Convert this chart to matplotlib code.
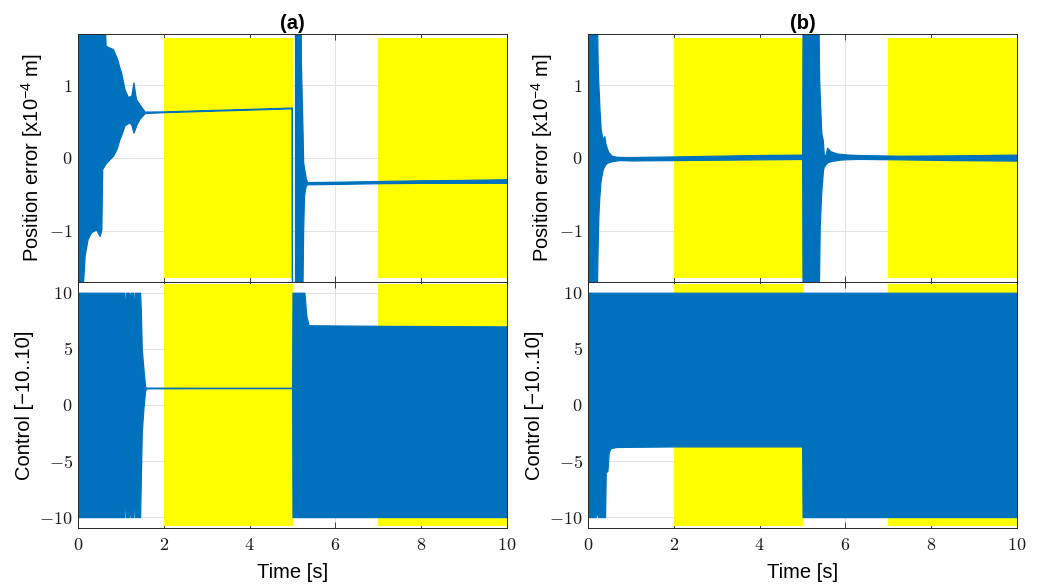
import numpy as np
import matplotlib.pyplot as plt
from matplotlib.ticker import FuncFormatter

plt.rcParams['font.family'] = 'Liberation Sans'
plt.rcParams['mathtext.fontset'] = 'cm'
plt.rcParams['mathtext.rm'] = 'Liberation Sans'
plt.rcParams['mathtext.it'] = 'Liberation Sans:italic'
plt.rcParams['mathtext.bf'] = 'Liberation Sans:bold'

BLUE = '#0072BD'
YELLOW = '#FFFF00'
DARK = '#262626'

# time intervals highlighted in yellow
shaded = [(2, 5), (7, 10)]

# (a) position error envelope [x1e-4 m]
t_pos_a = [0, 0.04, 0.12, 0.16, 0.23, 0.31, 0.43, 0.51, 0.55, 0.57, 0.62, 0.65, 0.70, 0.82,
           0.90, 0.94, 0.97, 1.01, 1.09, 1.17, 1.21, 1.25, 1.30, 1.35, 1.36, 1.44, 1.56,
           2.0, 3.0, 4.0, 4.99, 5.0, 5.03, 5.07, 5.2, 5.207, 5.238, 5.246, 5.26, 5.28,
           5.30, 5.32, 5.34, 5.36, 6.0, 7.0, 8.0, 9.0, 10.0]
hi_pos_a = [2, 2, 2, 2, 2, 2, 2, 2, 2, 2, 2, 1.54, 1.52, 1.49,
            1.38, 1.31, 1.24, 1.17, 0.94, 0.83, 0.84, 0.85, 1.03, 0.83, 0.80, 0.73, 0.63,
            0.632, 0.65, 0.667, 0.685, 0.685, np.nan, 2.5, 2.5, 1.31, 0.53, 0.35, -0.07, -0.15,
            -0.21, -0.28, -0.32, -0.34, -0.335, -0.325, -0.315, -0.31, -0.30]
lo_pos_a = [-2, -2, -1.75, -1.35, -1.12, -1.03, -0.99, -1.08, -0.99, -0.16, -0.11, -0.08, -0.05, 0.02,
            0.11, 0.18, 0.25, 0.30, 0.44, 0.47, 0.48, 0.45, 0.34, 0.42, 0.44, 0.53, 0.61,
            0.622, 0.64, 0.657, 0.675, -2.5, np.nan, -2.5, -2.5, -2.5, -2.5, -1.68, -0.99, -0.53,
            -0.45, -0.39, -0.375, -0.37, -0.365, -0.355, -0.35, -0.35, -0.35]

# (a) control envelope
t_ctrl_a = [0, 1.07, 1.09, 1.11, 1.18, 1.20, 1.22, 1.28, 1.30, 1.32, 1.37, 1.385, 1.40, 1.443,
            1.459, 1.482, 1.521, 1.56, 1.60, 3.0, 4.99, 5.0, 5.277, 5.323, 5.378, 7.0, 10.0]
hi_ctrl_a = [10, 10, 8.0, 10, 10, 9.4, 10, 10, 8.1, 10, 10, 9.2, 10, 10,
             8.5, 5.0, 3.2, 1.6, 1.54, 1.53, 1.53, 10, 10, 7.9, 7.1, 7.05, 7.0]
lo_ctrl_a = [-10, -10, -7.2, -10, -10, -9.0, -10, -10, -7.7, -10, -10, -9.0, -10, -10,
             -6.8, -2.4, -0.3, 1.3, 1.48, 1.49, 1.49, -10, -10, -10, -10, -10, -10]

# (b) position error envelope [x1e-4 m]
t_pos_b = [0, 0.195, 0.21, 0.218, 0.234, 0.249, 0.257, 0.288, 0.335, 0.374, 0.397, 0.428, 0.467,
           0.545, 0.662, 0.74, 1.0, 2.0, 3.0, 4.0, 4.99, 5.0, 5.37, 5.385, 5.40, 5.432, 5.44,
           5.471, 5.479, 5.495, 5.534, 5.573, 5.651, 5.807, 5.885, 6.041, 6.275, 6.509, 7.29,
           8.5, 10.0]
hi_pos_b = [2, 2, 1.6, 1.3, 1.0, 0.83, 0.7, 0.39, 0.25, 0.30, 0.20, 0.14, 0.08,
            0.03, 0.015, 0.013, 0.012, 0.02, 0.03, 0.04, 0.045, 2, 2, 1.12, 0.85, 0.39, 0.33,
            0.25, 0.18, 0.05, 0.03, 0.14, 0.09, 0.06, 0.055, 0.046, 0.04, 0.037, 0.03,
            0.035, 0.045]
lo_pos_b = [-2, -2, -1.44, -1.2, -0.8, -0.62, -0.53, -0.3, -0.16, -0.11, -0.09, -0.07, -0.06,
            -0.046, -0.035, -0.03, -0.035, -0.03, -0.025, -0.02, -0.015, -2, -2, -1.6, -0.94, -0.5, -0.44,
            -0.2, -0.16, -0.12, -0.09, -0.06, -0.046, -0.03, -0.023, -0.018, -0.014, -0.015, -0.02,
            -0.03, -0.037]

# (b) control envelope
t_ctrl_b = [0, 0.17, 0.2, 0.23, 0.39, 0.406, 0.445, 0.476, 0.522, 0.662, 2.0, 4.99, 5.0,
            5.525, 5.534, 5.543, 10.0]
hi_ctrl_b = [10, 10, 10, 10, 10, 10, 10, 10, 10, 10, 10, 10, 10,
             10, 6.0, 10, 10]
lo_ctrl_b = [-10, -10, -9.6, -10, -10, -6.0, -5.9, -4.2, -3.85, -3.75, -3.7, -3.7, -10,
             -10, -10, -10, -10]

xticks = [0, 2, 4, 6, 8, 10]
pos_ticks = [-1, 0, 1]
ctrl_ticks = [-10, -5, 0, 5, 10]

fig = plt.figure(figsize=(10.38, 5.85), dpi=100)
lefts = [0.0754, 0.5668]
width = 0.4128
ax_pos = [fig.add_axes([l, 0.5188, width, 0.4226]) for l in lefts]
ax_ctrl = [fig.add_axes([l, 0.0969, width, 0.4219]) for l in lefts]

math_fmt = FuncFormatter(lambda v, p: '$%g$' % v)


def setup(ax, ylim, yticks, shade_h):
    ax.set_xlim(0, 10)
    ax.set_ylim(*ylim)
    ax.set_xticks(xticks)
    ax.set_yticks(yticks)
    ax.xaxis.set_major_formatter(math_fmt)
    ax.yaxis.set_major_formatter(math_fmt)
    ax.grid(True, color='#e2e2e2', lw=0.7)
    ax.set_axisbelow(True)
    ax.tick_params(direction='in', length=4, width=0.6, top=True, right=True,
                   color=DARK, labelsize=13, labelcolor='#1a1a1a')
    ax.tick_params(axis='x', pad=6)
    ax.tick_params(axis='y', pad=4)
    for s in ax.spines.values():
        s.set_color(DARK)
        s.set_linewidth(0.7)
    for a, b in shaded:
        ax.fill_between([a, b], -shade_h, shade_h, color=YELLOW, lw=0, zorder=1)


def envelope(ax, t, lo, hi):
    ax.fill_between(t, lo, hi, facecolor=BLUE, edgecolor=BLUE, lw=0.9, zorder=2)


titles = ['(a)', '(b)']
pos_data = [(t_pos_a, lo_pos_a, hi_pos_a), (t_pos_b, lo_pos_b, hi_pos_b)]
ctrl_data = [(t_ctrl_a, lo_ctrl_a, hi_ctrl_a), (t_ctrl_b, lo_ctrl_b, hi_ctrl_b)]

for i in range(2):
    ax = ax_pos[i]
    setup(ax, (-1.7, 1.7), pos_ticks, 1.65)
    envelope(ax, *[np.array(d, dtype=float) for d in pos_data[i]])
    ax.tick_params(axis='x', labelbottom=False)
    ax.set_title(titles[i], fontweight='bold', fontsize=14.5, pad=4)
    ax.set_ylabel('Position error [x10$^{-4}$ m]', fontsize=14.5,
                  math_fontfamily='custom', labelpad=3)

    ax = ax_ctrl[i]
    setup(ax, (-11, 11), ctrl_ticks, 10.8)
    envelope(ax, *[np.array(d, dtype=float) for d in ctrl_data[i]])
    ax.set_ylabel('Control [\u221210..10]', fontsize=14.5, labelpad=4)
    ax.set_xlabel('Time [s]', fontsize=14.5, labelpad=7)

fig.savefig('out.png', dpi=100)
